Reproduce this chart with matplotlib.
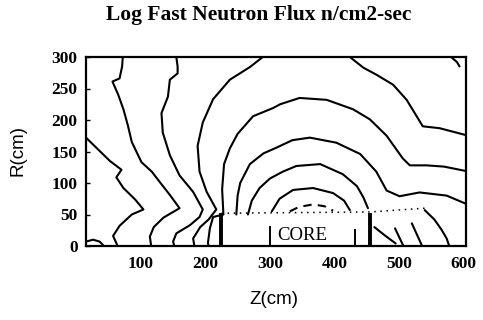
import matplotlib
matplotlib.use("Agg")
import matplotlib.pyplot as plt

# ---- contour lines (Z cm, R cm) ----
c0_z = [15, 26, 36, 41, 42]
c0_r = [7, 10, 7, 2, 0]

c1_z = [15, 35, 52, 70, 62, 73, 91, 104, 86, 67, 57, 64]
c1_r = [172, 152, 135, 121, 109, 92, 74, 58, 50, 32, 16, 0]

c2_z = [72, 71, 67, 56, 65, 73, 80, 86, 101, 117, 129, 145, 160, 135, 120, 114, 116]
c2_r = [300, 285, 266, 261, 240, 217, 191, 165, 133, 118, 102, 81, 60, 45, 30, 15, 0]

c3_z = [155, 157, 157, 145, 142, 132, 134, 145, 160, 181, 196, 191, 176, 155, 150, 152]
c3_r = [300, 285, 274, 264, 237, 211, 180, 144, 112, 86, 58, 46, 33, 20, 7, 0]

c3b_z = [582, 590, 594]
c3b_r = [299, 292, 285]

c4a_z = [289, 269, 238, 212, 196, 188, 191, 202, 217, 205, 192, 186, 181, 183]
c4a_r = [300, 284, 264, 233, 196, 159, 118, 86, 58, 42, 30, 20, 12, 0]

c4b_z = [424, 445, 465, 491, 512, 537, 563, 604]
c4b_r = [300, 283, 272, 256, 232, 190, 187, 176]

c5_z = [205, 204, 207, 212, 228, 226, 229, 238, 250, 274, 305, 316, 346, 388,
        429, 455, 481, 506, 517, 543, 570, 604]
c5_r = [0, 5, 28, 46, 50, 90, 130, 155, 178, 206, 219, 225, 235, 232,
        217, 201, 175, 139, 128, 128, 126, 119]

c6_z = [248, 250, 254, 269, 290, 310, 335, 362, 403, 440, 465, 481, 501, 532, 574, 604]
c6_r = [50, 80, 100, 130, 147, 156, 168, 172, 164, 146, 118, 88, 79, 85, 80, 67]

c7a_z = [266, 272, 284, 300, 320, 341, 378, 413, 435, 445, 452]
c7a_r = [50, 72, 92, 107, 118, 127, 130, 114, 95, 77, 60]
c7b_z = [540, 555, 566, 574, 578]
c7b_r = [57, 42, 26, 12, 0]

c8a_z = [303, 315, 336, 367, 398, 415, 424]
c8a_r = [55, 75, 89, 92, 84, 72, 57]
c8b_z = [520, 528, 536]
c8b_r = [36, 18, 0]

c9a_z = [331, 345, 367, 385, 398]
c9a_r = [55, 62, 66, 63, 56]
c9b_z = [494, 500, 507]
c9b_r = [28, 15, 0]

c10_z = [462, 478, 495]
c10_r = [30, 17, 4]

# core geometry
core_edges_z = [225, 455]
core_top_r = 50
core_bound_z = [225, 455, 540]
core_bound_r = [52, 54, 60]
core_bar_z = [300, 432]
core_bar_r = [30, 26]
core_label = "CORE"
core_label_pos = (350, 16)

x_ticks = [100, 200, 300, 400, 500, 600]
y_ticks = [0, 50, 100, 150, 200, 250, 300]

title = "Log Fast Neutron Flux n/cm2-sec"

fig = plt.figure(figsize=(4.83, 3.2), dpi=100)
ax = fig.add_axes([86 / 483, 1 - 246 / 320, 380 / 483, 189 / 320])
ax.set_xlim(15, 604)
ax.set_ylim(0, 300)

lw = 1.5
solid = [(c0_z, c0_r), (c1_z, c1_r), (c2_z, c2_r), (c3_z, c3_r), (c3b_z, c3b_r),
         (c4a_z, c4a_r), (c4b_z, c4b_r), (c5_z, c5_r), (c6_z, c6_r),
         (c7a_z, c7a_r), (c7b_z, c7b_r), (c8a_z, c8a_r), (c8b_z, c8b_r),
         (c9b_z, c9b_r), (c10_z, c10_r)]
for zz, rr in solid:
    ax.plot(zz, rr, color="black", lw=lw, solid_capstyle="round")
ax.plot(c9a_z, c9a_r, color="black", lw=lw, ls=(0, (4, 3)))

# core outline
for zc in core_edges_z:
    ax.plot([zc, zc], [0, core_top_r], color="black", lw=2.8)
ax.plot(core_bound_z, core_bound_r, color="black", lw=1.1, ls=(0, (1, 3)))
for zb, rb in zip(core_bar_z, core_bar_r):
    ax.plot([zb, zb], [0, rb], color="black", lw=1.4)
ax.text(core_label_pos[0], core_label_pos[1], core_label, ha="center", va="center",
        fontsize=13.5, family="Liberation Serif")

ax.set_xticks(x_ticks)
ax.set_yticks(y_ticks)
ax.set_xticklabels([str(v) for v in x_ticks], family="Liberation Serif",
                   fontsize=12.5, fontweight="bold")
ax.set_yticklabels([str(v) for v in y_ticks], family="Liberation Serif",
                   fontsize=12.5, fontweight="bold")
ax.tick_params(axis="x", direction="in", length=0, pad=7)
ax.tick_params(axis="y", direction="in", length=3, pad=6, width=1)
for s in ax.spines.values():
    s.set_linewidth(1.6)
    s.set_color("black")

fig.text(259 / 483, 1 - 15 / 320, title, ha="center", va="center",
         fontsize=15.5, fontweight="bold", family="Liberation Serif")
fig.text(18 / 483, 1 - 150 / 320, "R(cm)", rotation=90, ha="center", va="center",
         fontsize=13.5, family="Liberation Sans")
fig.text(274 / 483, 1 - 299 / 320, "Z(cm)", ha="center", va="center",
         fontsize=13.5, family="Liberation Sans")

fig.savefig("out.png", dpi=100)
